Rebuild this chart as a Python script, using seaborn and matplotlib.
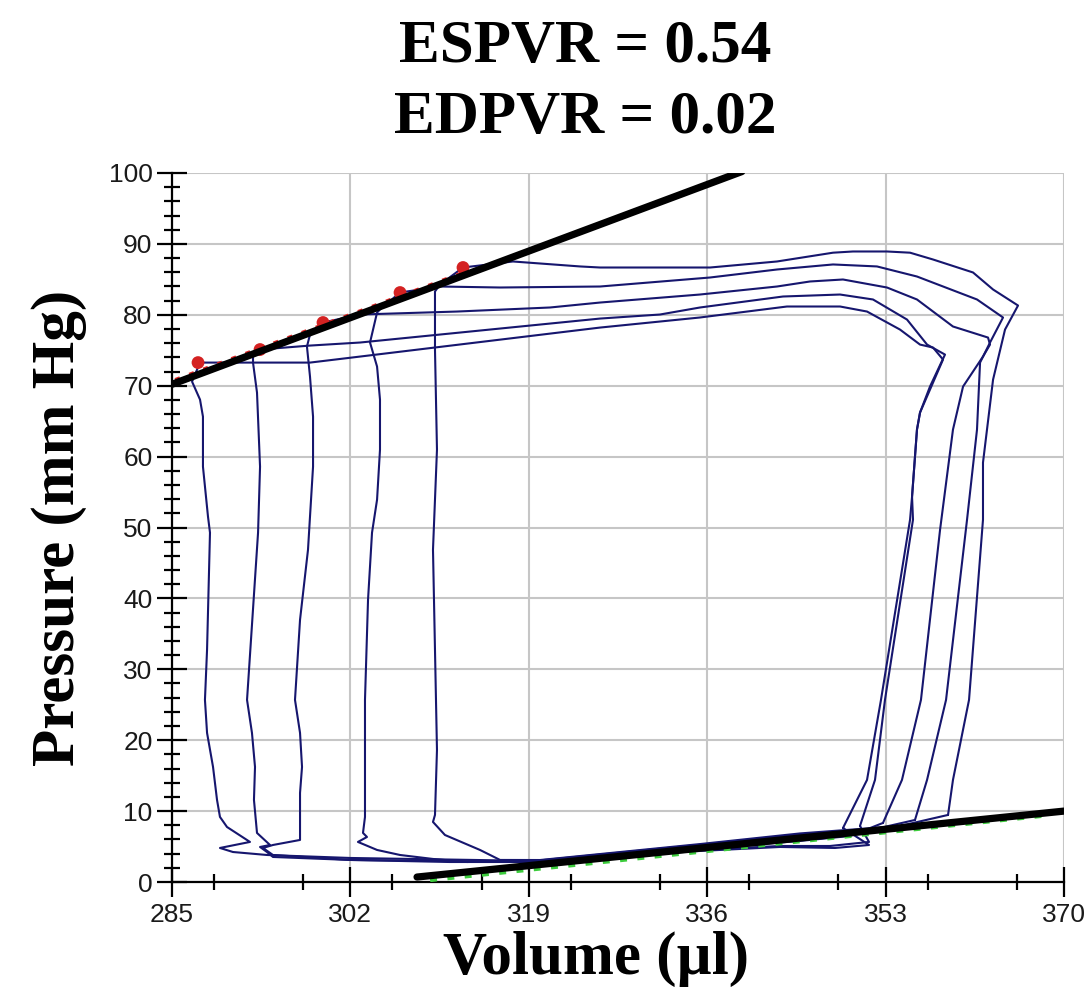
import matplotlib
matplotlib.use("Agg")
import matplotlib.pyplot as plt
import numpy as np
import pandas as pd
import seaborn as sns
from matplotlib.ticker import FixedLocator, MultipleLocator

# ---------------- data (volume in µl, pressure in mm Hg) ----------------
loop1_vol = [358.95, 359.42, 360.95, 362.28, 362.28, 363.24, 364.38, 365.62, 363.24, 361.33,
             357.52, 355.33, 353.13, 349.89, 347.99, 342.65, 336.27, 325.79, 323.88, 317.49,
             312.73, 310.54, 310.06, 310.06, 310.25, 309.87, 310.06, 310.25, 310.06, 309.87,
             311.01, 314.35, 316.26, 320.07, 335.31, 344.84, 354.37]
loop1_pres = [9.46, 14.40, 25.69, 51.10, 59.15, 70.86, 77.92, 81.31, 83.57, 85.97,
              87.80, 88.76, 88.93, 88.93, 88.76, 87.52, 86.67, 86.67, 86.82, 87.52,
              86.67, 84.27, 83.29, 75.10, 60.98, 46.87, 32.75, 18.63, 9.46, 8.47,
              6.63, 4.52, 3.11, 3.10, 5.35, 6.85, 7.90]

loop2_vol = [355.80, 356.95, 358.76, 360.76, 361.71, 362.00, 362.95, 364.19, 361.71, 355.99,
             352.18, 347.99, 342.65, 336.27, 325.79, 316.26, 310.54, 306.73, 304.82, 304.54,
             303.87, 304.54, 304.82, 304.82, 304.54, 304.06, 303.68, 303.39, 303.39, 303.20,
             303.58, 302.72, 304.54, 306.73, 309.87, 313.11, 320.07, 335.31, 344.84, 351.51]
loop2_pres = [8.75, 14.40, 25.69, 51.10, 63.81, 73.26, 76.09, 79.62, 82.16, 85.40,
              86.82, 87.10, 86.39, 85.26, 83.99, 83.85, 83.99, 83.14, 80.75, 80.32,
              76.09, 72.70, 68.04, 60.98, 53.92, 49.27, 39.81, 25.69, 9.18, 6.92,
              6.35, 5.65, 4.52, 3.81, 3.25, 2.82, 3.05, 5.25, 6.70, 7.30]

loop3_vol = [352.75, 354.56, 356.37, 358.19, 359.42, 360.38, 362.28, 362.95, 362.76, 359.42,
             355.99, 353.13, 348.94, 345.80, 342.65, 335.31, 325.79, 321.02, 312.16, 302.92,
             299.39, 298.15, 297.86, 298.15, 298.44, 298.44, 298.15, 297.96, 297.20, 296.72,
             297.20, 297.39, 297.20, 297.20, 294.62, 293.67, 294.62, 301.96, 311.49, 320.07,
             335.31, 344.84, 349.61]
loop3_pres = [8.33, 14.40, 25.69, 49.69, 63.81, 69.88, 74.11, 75.80, 76.79, 78.35,
              82.16, 83.85, 84.98, 84.70, 83.99, 82.86, 81.73, 81.03, 80.46, 80.04,
              78.91, 77.22, 75.52, 71.29, 65.64, 58.58, 51.53, 46.87, 36.98, 25.69,
              21.03, 16.23, 12.56, 5.93, 5.22, 4.80, 3.81, 3.11, 2.82, 2.82,
              4.66, 5.79, 6.49]

loop4_vol = [350.56, 351.99, 352.94, 355.61, 355.52, 355.99, 356.28, 357.23, 358.66, 356.95,
             355.04, 351.80, 348.66, 343.22, 335.31, 331.50, 325.79, 302.92, 298.15, 293.39,
             292.72, 292.72, 293.10, 293.39, 293.20, 292.15, 292.62, 292.91, 292.81, 293.10,
             294.34, 293.39, 294.05, 294.62, 301.96, 320.07, 335.31, 342.94, 347.70, 351.42]
loop4_pres = [7.91, 14.40, 25.69, 51.10, 54.35, 63.81, 66.21, 69.88, 74.39, 75.80,
              79.33, 82.16, 82.86, 82.58, 81.03, 80.04, 79.47, 76.09, 75.66, 75.10,
              74.11, 73.26, 69.03, 58.58, 49.27, 25.69, 21.03, 16.23, 11.58, 6.92,
              5.22, 4.94, 4.23, 3.53, 3.11, 2.82, 4.52, 5.08, 5.08, 5.65]

loop5_vol = [348.94, 351.23, 352.56, 355.33, 355.52, 355.99, 356.28, 357.23, 358.47, 357.52,
             356.28, 354.37, 351.23, 348.66, 343.60, 335.31, 325.79, 302.92, 298.15, 287.67,
             286.91, 287.67, 287.95, 287.95, 288.43, 288.62, 288.34, 288.14, 288.34, 288.91,
             289.29, 289.57, 290.24, 292.43, 289.57, 290.81, 294.05, 301.96, 320.07, 335.31,
             342.94, 348.18, 351.42]
loop5_pres = [7.62, 14.40, 25.69, 51.10, 54.35, 63.81, 66.21, 69.45, 73.69, 75.38,
              75.80, 77.92, 80.46, 81.17, 81.17, 79.62, 78.20, 74.11, 73.26, 73.26,
              70.58, 68.04, 65.64, 58.58, 51.53, 49.27, 32.75, 25.69, 21.03, 16.23,
              11.58, 9.18, 7.76, 5.65, 4.80, 4.23, 3.81, 3.39, 2.96, 4.38,
              4.94, 4.80, 5.22]

es_vol = [287.48, 293.39, 299.39, 306.73, 312.73]
es_pres = [73.26, 75.10, 78.91, 83.14, 86.67]
es_fit_vol = [285.3, 313.0]
es_fit_pres = [70.85, 86.1]

espvr_vol = [285.0, 339.3]
espvr_pres = [70.2, 100.2]
edpvr_vol = [308.35, 370.0]
edpvr_pres = [0.7, 10.0]
ed_fit_vol = [309.6, 368.7]
ed_fit_pres = [0.22, 9.40]

x_ticks = [285, 302, 319, 336, 353, 370]
y_ticks = [0, 10, 20, 30, 40, 50, 60, 70, 80, 90, 100]
title_lines = ["ESPVR = 0.54", "EDPVR = 0.02"]
x_label = "Volume (µl)"
y_label = "Pressure (mm Hg)"

# ---------------- build table ----------------
loops = [(loop1_vol, loop1_pres), (loop2_vol, loop2_pres), (loop3_vol, loop3_pres),
         (loop4_vol, loop4_pres), (loop5_vol, loop5_pres)]
frames = []
for i, (v, p) in enumerate(loops):
    vv = list(v) + [v[0]]
    pp = list(p) + [p[0]]
    frames.append(pd.DataFrame({"vol": vv, "pres": pp, "loop": i}))
df = pd.concat(frames, ignore_index=True)

# ---------------- style ----------------
sns.set_theme(style="white")
plt.rcParams['font.family'] = ['Liberation Sans', 'DejaVu Sans']
plt.rcParams['text.color'] = 'black'
serif = ['Liberation Serif', 'DejaVu Serif']

fig = plt.figure(figsize=(10.88, 10.08), dpi=100)
ax = fig.add_axes([172 / 1088, 1 - 882 / 1008, 892 / 1088, 709 / 1008])

navy = '#16166e'
sns.lineplot(data=df, x="vol", y="pres", units="loop", estimator=None, sort=False,
             color=navy, linewidth=1.5, ax=ax, legend=False, zorder=3)

sns.lineplot(x=es_fit_vol, y=es_fit_pres, color='#dd2222', linewidth=2.4,
             linestyle=(0, (1.5, 3)), ax=ax, legend=False, zorder=4)
sns.scatterplot(x=es_vol, y=es_pres, color='#d42222', s=85, edgecolor='none',
                ax=ax, legend=False, zorder=4)
sns.lineplot(x=ed_fit_vol, y=ed_fit_pres, color='#3ccc3c', linewidth=2.5,
             linestyle=(0, (2, 3)), ax=ax, legend=False, zorder=4)
sns.lineplot(x=espvr_vol, y=espvr_pres, color='black', linewidth=5.2,
             ax=ax, legend=False, zorder=5, solid_capstyle='round')
sns.lineplot(x=edpvr_vol, y=edpvr_pres, color='black', linewidth=5.2,
             ax=ax, legend=False, zorder=5, solid_capstyle='round')

ax.set_xlim(285, 370)
ax.set_ylim(0, 100)
ax.xaxis.set_major_locator(FixedLocator(x_ticks))
ax.xaxis.set_minor_locator(MultipleLocator(8.5))
ax.yaxis.set_major_locator(FixedLocator(y_ticks))
ax.yaxis.set_minor_locator(MultipleLocator(2))

ax.grid(True, which='major', color='#c6c6c6', linewidth=1.5)
ax.set_axisbelow(True)
for s in ['top', 'right']:
    ax.spines[s].set_visible(False)
for s in ['left', 'bottom']:
    ax.spines[s].set_color('black')
    ax.spines[s].set_linewidth(1.6)

ax.tick_params(axis='both', which='major', direction='inout', length=21, width=1.6,
               color='black', labelsize=19, labelcolor='#1a1a1a', bottom=True, left=True)
ax.tick_params(axis='both', which='minor', direction='inout', length=11, width=1.6,
               color='black', bottom=True, left=True)
ax.tick_params(axis='y', which='major', pad=3.5)
ax.tick_params(axis='x', which='major', pad=4.5)

ax.set_xlabel(x_label, fontsize=44, fontweight='bold', family=serif, color='black')
ax.xaxis.set_label_coords(0.475, -0.069)
ax.set_ylabel(y_label, fontsize=44, fontweight='bold', family=serif, color='black',
              va='center')
ax.yaxis.set_label_coords(-0.127, 0.5)

fig.text(585 / 1088, 1 - 62 / 1008, title_lines[0], ha='center', va='baseline',
         fontsize=44, fontweight='bold', family=serif, color='black')
fig.text(585 / 1088, 1 - 133 / 1008, title_lines[1], ha='center', va='baseline',
         fontsize=44, fontweight='bold', family=serif, color='black')

fig.savefig("out.png", dpi=100, facecolor='white')
